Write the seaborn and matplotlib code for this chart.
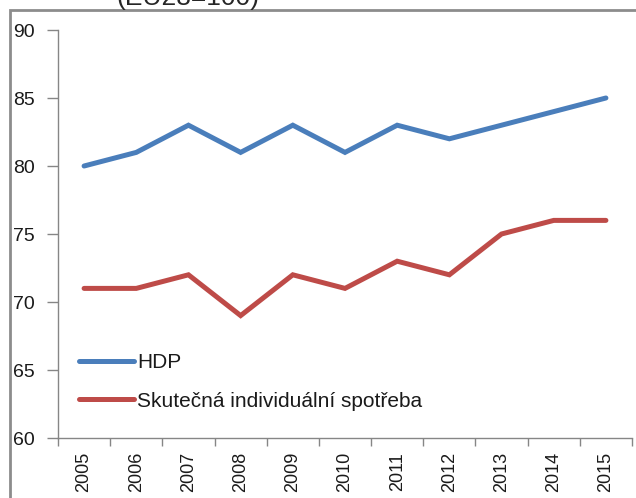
import pandas as pd
import matplotlib.pyplot as plt
import seaborn as sns
from matplotlib.patches import Rectangle

years = ['2005', '2006', '2007', '2008', '2009', '2010',
         '2011', '2012', '2013', '2014', '2015']
hdp = [80, 81, 83, 81, 83, 81, 83, 82, 83, 84, 85]
spotreba = [71, 71, 72, 69, 72, 71, 73, 72, 75, 76, 76]
series_names = ['HDP', 'Skutečná individuální spotřeba']
colors = ['#4a7ebb', '#be4b48']

df = pd.DataFrame({
    'rok': list(range(len(years))) * 2,
    'hodnota': hdp + spotreba,
    'rada': [series_names[0]] * len(years) + [series_names[1]] * len(years),
})

sns.set_style('white')
plt.rcParams['font.family'] = ['Liberation Sans', 'DejaVu Sans']

fig = plt.figure(figsize=(6.36, 4.98), dpi=100)
ax = fig.add_axes([58 / 636, 1 - 438 / 498, 574 / 636, 408 / 498])

sns.lineplot(data=df, x='rok', y='hodnota', hue='rada', palette=colors,
             linewidth=3.6, ax=ax, solid_capstyle='round', solid_joinstyle='miter')

ax.set_xlim(-0.5, len(years) - 0.5)
ax.set_ylim(60, 90)
ax.set_yticks(range(60, 91, 5))
ax.set_xticks(range(len(years)))
ax.set_xticklabels(years, rotation=90, fontsize=13)
ax.set_xticks([i - 0.5 for i in range(len(years) + 1)], minor=True)
ax.tick_params(axis='both', which='both', bottom=True, left=True)
ax.tick_params(axis='x', which='major', length=0, pad=10)
ax.tick_params(axis='x', which='minor', length=6, color='#868686', width=1, direction='out')
ax.tick_params(axis='y', length=8, color='#868686', width=1, direction='out', pad=9,
               labelsize=14, labelcolor='#1a1a1a')
ax.tick_params(axis='x', labelcolor='#1a1a1a')
ax.set_xlabel('')
ax.set_ylabel('')

for s in ['top', 'right']:
    ax.spines[s].set_visible(False)
for s in ['left', 'bottom']:
    ax.spines[s].set_color('#868686')
    ax.spines[s].set_linewidth(1)

leg = ax.legend(loc='center left', bbox_to_anchor=(21 / 574, 0.138), frameon=False,
                borderaxespad=0, borderpad=0, fontsize=15, handlelength=2.64,
                handletextpad=0.15, labelspacing=0.95)
for line in leg.get_lines():
    line.set_linewidth(3.6)
for t in leg.get_texts():
    t.set_color('#1a1a1a')

fig.patches.append(Rectangle((10 / 636, -0.1), 1.2, 1 - 10 / 498 + 0.1,
                             transform=fig.transFigure, fill=False,
                             edgecolor='#8c8c8c', linewidth=2))
fig.text(188 / 636, 1.005, '(EU28=100)', ha='center', va='center', fontsize=19)

fig.savefig('out.png', dpi=100)
